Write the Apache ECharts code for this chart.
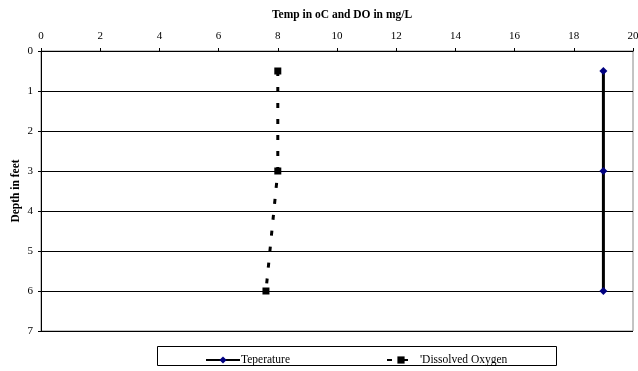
<!DOCTYPE html>
<html><head><meta charset="utf-8">
<script src="https://cdn.jsdelivr.net/npm/echarts@6/dist/echarts.min.js"></script>
<style>html,body{margin:0;padding:0;background:#fff}#c{width:638px;height:371px}</style>
</head><body><div id="c"></div>
<script>
const depths = [0.5, 3, 6];
const tempValues = [19, 19, 19];
const doValues = [8, 8, 7.6];
const xTicks = [0,2,4,6,8,10,12,14,16,18,20];
const yTicks = [0,1,2,3,4,5,6,7];
const seriesNames = ['Teperature', "'Dissolved Oxygen"];

const font = 'Liberation Serif';
const chart = echarts.init(document.getElementById('c'), null, {renderer:'canvas'});
chart.setOption({
  animation:false,
  backgroundColor:'#fff',
  textStyle:{fontFamily:font},
  title:{
    text:'Temp in oC and DO in mg/L', left:337, top:4, textAlign:'center',
    textStyle:{fontFamily:font, fontSize:11.5, fontWeight:'bold', color:'#000'}
  },
  grid:{left:41, right:5, top:51, bottom:40, show:true, borderColor:'#888', borderWidth:1, backgroundColor:'#fff', outerBoundsMode:'none', containLabel:false},
  xAxis:{
    type:'value', position:'top', min:xTicks[0], max:xTicks[xTicks.length-1], interval:2,
    axisLine:{show:true, lineStyle:{color:'#000', width:1}},
    axisTick:{show:true, inside:false, length:3, lineStyle:{color:'#000'}},
    axisLabel:{fontFamily:font, fontSize:11, color:'#000', margin:9},
    splitLine:{show:false}
  },
  yAxis:{
    type:'value', inverse:true, min:yTicks[0], max:yTicks[yTicks.length-1], interval:1,
    name:'Depth in feet', nameLocation:'middle', nameGap:19, nameRotate:90, nameMoveOverlap:false,
    nameTextStyle:{fontFamily:font, fontSize:11.5, fontWeight:'bold', color:'#000'},
    axisLine:{show:true, lineStyle:{color:'#000', width:1}},
    axisTick:{show:true, length:3, lineStyle:{color:'#000'}},
    axisLabel:{fontFamily:font, fontSize:11, color:'#000', margin:8},
    splitLine:{show:true, lineStyle:{color:'#000', width:1}}
  },
  legend:[
    {data:[seriesNames[0]], left:200, top:349, itemWidth:34, itemHeight:9, itemGap:0,
     textStyle:{fontFamily:font, fontSize:11.5, color:'#000', padding:[0,0,0,-4]}},
    {data:[seriesNames[1]], left:381, top:349, itemWidth:28, itemHeight:9,
     textStyle:{fontFamily:font, fontSize:11.5, color:'#000', padding:[0,0,0,0]}}
  ],
  graphic:[{type:'rect', shape:{x:157.5, y:346.5, width:399, height:19}, style:{fill:null, stroke:'#000', lineWidth:1}, z:-1}],
  series:[
    {name:seriesNames[0], type:'line', data:depths.map((d,i)=>[tempValues[i], d]),
     lineStyle:{color:'#000', width:3}, itemStyle:{color:'#000080'},
     symbol:'diamond', symbolSize:8, z:3},
    {name:seriesNames[1], type:'line', data:depths.map((d,i)=>[doValues[i], d]),
     lineStyle:{color:'#000', width:3, type:[5,11]}, itemStyle:{color:'#000'},
     symbol:'rect', symbolSize:7, z:3}
  ]
});
</script></body></html>
